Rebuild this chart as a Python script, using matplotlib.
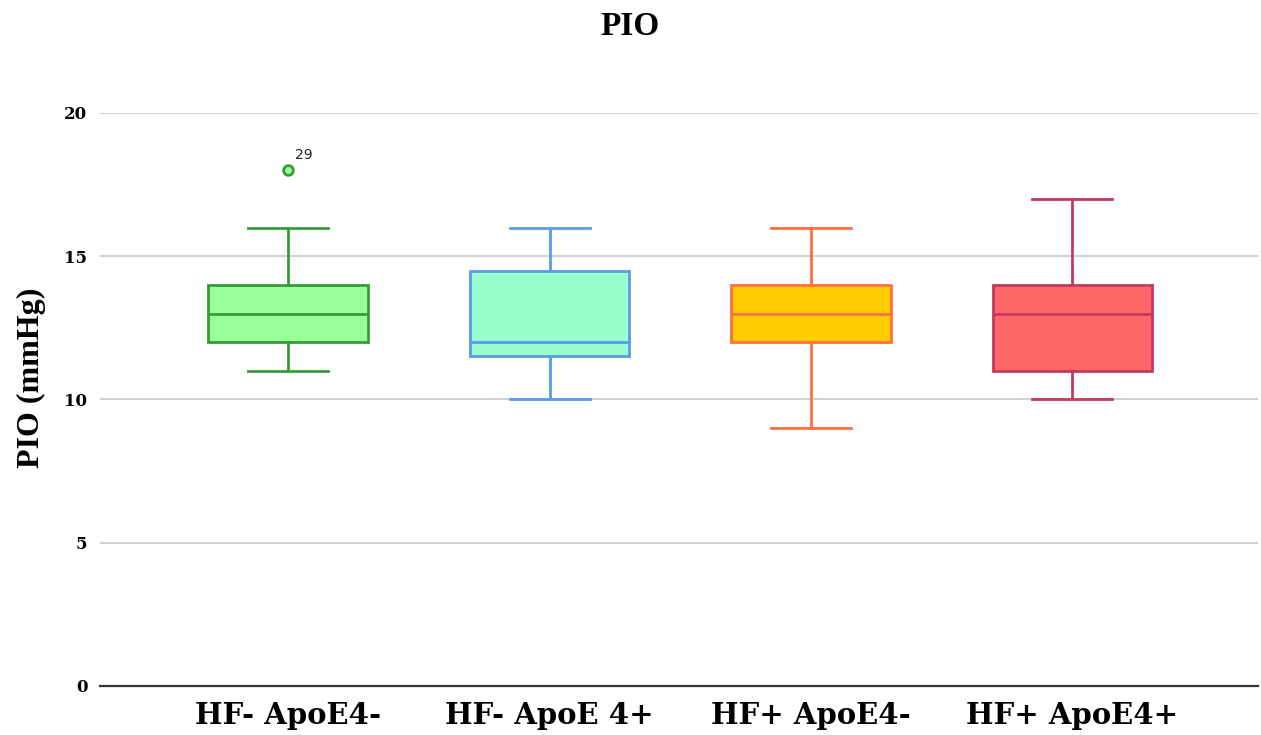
import matplotlib
matplotlib.use("Agg")
import matplotlib.pyplot as plt

groups = ["HF- ApoE4-", "HF- ApoE 4+", "HF+ ApoE4-", "HF+ ApoE4+"]
whisker_low = [11, 10, 9, 10]
q1 = [12, 11.5, 12, 11]
medians = [13, 12, 13, 13]
q3 = [14, 14.5, 14, 14]
whisker_high = [16, 16, 16, 17]
outliers = [[18], [], [], []]
outlier_ids = [["29"], [], [], []]

fills = ["#99FF99", "#99FFCC", "#FFCC00", "#FF6666"]
edges = ["#3A9A3A", "#5B9BEA", "#FF7040", "#C23A5E"]
y_ticks = [0, 5, 10, 15, 20]

times = ["Liberation Serif", "DejaVu Serif"]
wide_serif = ["DejaVu Serif"]

fig = plt.figure(figsize=(12.61, 7.35), dpi=100)
ax = fig.add_axes([0.0793, 0.0667, 0.9183, 0.7796])

stats = []
for i, g in enumerate(groups):
    stats.append(dict(label=g, med=medians[i], q1=q1[i], q3=q3[i],
                      whislo=whisker_low[i], whishi=whisker_high[i],
                      fliers=outliers[i]))

positions = list(range(len(groups)))
bp = ax.bxp(stats, positions=positions, widths=0.61, capwidths=0.306,
            patch_artist=True, showfliers=True, zorder=3)

for i in range(len(groups)):
    bp["boxes"][i].set(facecolor=fills[i], edgecolor=edges[i], linewidth=2.0)
    bp["medians"][i].set(color=edges[i], linewidth=2.0)
    for w in bp["whiskers"][2 * i:2 * i + 2]:
        w.set(color=edges[i], linewidth=2.0)
    for c in bp["caps"][2 * i:2 * i + 2]:
        c.set(color=edges[i], linewidth=2.0)
    bp["fliers"][i].set(marker="o", markersize=7, markerfacecolor=fills[i],
                        markeredgecolor=edges[i], markeredgewidth=2.0)
    for v, lab in zip(outliers[i], outlier_ids[i]):
        ax.annotate(lab, xy=(positions[i], v), xytext=(5, 8),
                    textcoords="offset points", fontsize=10,
                    family="DejaVu Sans", color="#222222")

ax.set_xlim(-0.72, 3.71)
ax.set_ylim(0, 20)
ax.set_yticks(y_ticks)
ax.yaxis.grid(True, color="#C8C8C8", linewidth=1.2, zorder=0)
ax.set_axisbelow(True)
ax.axhline(0, color="#333333", linewidth=1.6, zorder=4, clip_on=False)

for s in ["top", "right", "left", "bottom"]:
    ax.spines[s].set_visible(False)

ax.tick_params(axis="y", length=0, pad=9, labelsize=12)
ax.tick_params(axis="x", length=0, pad=11, labelsize=21)
for t in ax.get_yticklabels():
    t.set_fontfamily(wide_serif)
    t.set_fontweight("bold")
ax.set_xticks(positions)
ax.set_xticklabels(groups)
for t in ax.get_xticklabels():
    t.set_fontfamily(wide_serif)
    t.set_fontweight("bold")

ax.set_ylabel("PIO (mmHg)", fontsize=23, fontweight="bold", family=times)
ax.yaxis.set_label_coords(-0.047, 0.537)
fig.suptitle("PIO", x=0.5, y=0.985, fontsize=24, fontweight="bold", family=times)

fig.savefig("out.png", dpi=100)
